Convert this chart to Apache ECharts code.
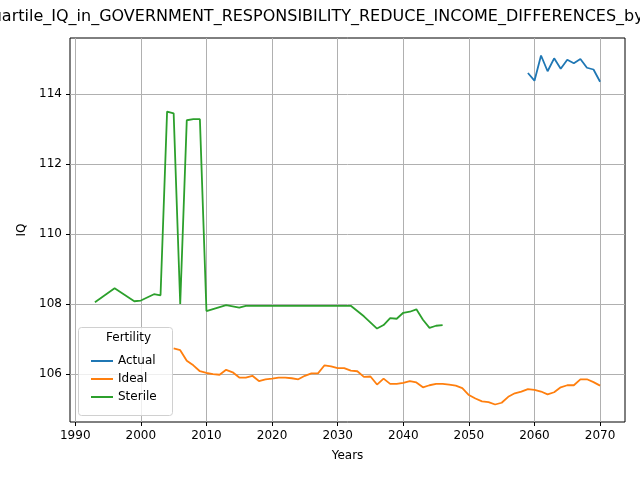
<!DOCTYPE html>
<html><head><meta charset="utf-8">
<script src="https://cdn.jsdelivr.net/npm/echarts@6/dist/echarts.min.js"></script>
<style>body{margin:0}#c{width:640px;height:480px}</style></head>
<body><div id="c"></div>
<script>
// data
var actualYears = [2059,2060,2061,2062,2063,2064,2065,2066,2067,2068,2069,2070];
var actualIQ = [114.6,114.38,115.1,114.65,115.02,114.72,114.98,114.88,115.0,114.75,114.7,114.35];

var idealYears = [];
for (var y = 2005; y <= 2070; y++) idealYears.push(y);
var idealIQ = [106.73,106.68,106.38,106.25,106.08,106.03,106.0,105.98,106.12,106.05,105.9,105.9,105.95,105.8,105.85,105.87,105.9,105.9,105.88,105.85,105.95,106.02,106.02,106.25,106.22,106.17,106.17,106.1,106.08,105.92,105.93,105.7,105.87,105.72,105.72,105.75,105.8,105.76,105.62,105.68,105.72,105.72,105.7,105.67,105.6,105.4,105.3,105.22,105.2,105.13,105.18,105.35,105.45,105.5,105.57,105.55,105.5,105.42,105.48,105.62,105.68,105.68,105.85,105.85,105.77,105.67];

var sterileYears = [1993,1996,1999,2000,2002,2003,2004,2005,2006,2007,2008,2009,2010,2013,2015,2016,2020,2025,2030,2032,2033,2034,2036,2037,2038,2039,2040,2041,2042,2043,2044,2045,2046];
var sterileIQ = [108.05,108.45,108.08,108.1,108.28,108.25,113.5,113.45,108.0,113.25,113.28,113.28,107.8,107.97,107.9,107.95,107.95,107.95,107.95,107.95,107.8,107.65,107.3,107.4,107.6,107.58,107.75,107.78,107.85,107.55,107.32,107.38,107.4];

var xTicks = [1990,2000,2010,2020,2030,2040,2050,2060,2070];
var yTicks = [106,108,110,112,114];

function pairs(xs, ys) { return xs.map(function (x, i) { return [x, ys[i]]; }); }

var chart = echarts.init(document.getElementById('c'));
var font = 'DejaVu Sans';
chart.setOption({
  animation: false,
  textStyle: {fontFamily: font},
  title: {
    text: 'Quartile_IQ_in_GOVERNMENT_RESPONSIBILITY_REDUCE_INCOME_DIFFERENCES_by_F',
    left: 'center', top: 4,
    textStyle: {fontSize: 16, fontWeight: 'normal', color: '#000', fontFamily: font}
  },
  color: ['#1f77b4', '#ff7f0e', '#2ca02c'],
  grid: {left: 70, right: 15, top: 38, bottom: 58, show: true, borderColor: '#000', borderWidth: 1},
  xAxis: {
    type: 'value', min: 1989.2, max: 2073.8,
    name: 'Years', nameLocation: 'middle', nameGap: 28,
    nameTextStyle: {fontSize: 12, color: '#000'},
    axisLine: {show: false},
    axisTick: {show: true, customValues: xTicks, length: 4, lineStyle: {color: '#000'}},
    axisLabel: {customValues: xTicks, color: '#000', fontSize: 12, formatter: function (v) { return String(v); }},
    splitLine: {show: true, lineStyle: {color: '#b0b0b0', width: 1}}
  },
  yAxis: {
    type: 'value', min: 104.63, max: 115.6,
    name: 'IQ', nameLocation: 'middle', nameGap: 40,
    nameTextStyle: {fontSize: 12, color: '#000'},
    axisLine: {show: false},
    axisTick: {show: true, customValues: yTicks, length: 4, lineStyle: {color: '#000'}},
    axisLabel: {customValues: yTicks, color: '#000', fontSize: 12, formatter: function (v) { return String(v); }},
    splitLine: {show: true, lineStyle: {color: '#b0b0b0', width: 1}}
  },
  legend: {
    orient: 'vertical', left: 86, top: 350, itemGap: 6, z: 20,
    itemWidth: 22, itemHeight: 2, icon: 'rect',
    textStyle: {fontSize: 12, color: '#000'},
    data: ['Actual', 'Ideal', 'Sterile']
  },
  graphic: [
    {type: 'rect', left: 78, top: 327, shape: {width: 94, height: 88, r: 3},
     style: {fill: 'rgba(255,255,255,0.8)', stroke: '#d0d0d0'}, z: 5},
    {type: 'text', left: 106, top: 332, style: {text: 'Fertility', font: '12px DejaVu Sans', fill: '#000'}, z: 6}
  ],
  series: [
    {name: 'Actual', type: 'line', showSymbol: false, lineStyle: {width: 1.8}, data: pairs(actualYears, actualIQ)},
    {name: 'Ideal', type: 'line', showSymbol: false, lineStyle: {width: 1.8}, data: pairs(idealYears, idealIQ)},
    {name: 'Sterile', type: 'line', showSymbol: false, lineStyle: {width: 1.8}, data: pairs(sterileYears, sterileIQ)}
  ]
});
</script></body></html>
